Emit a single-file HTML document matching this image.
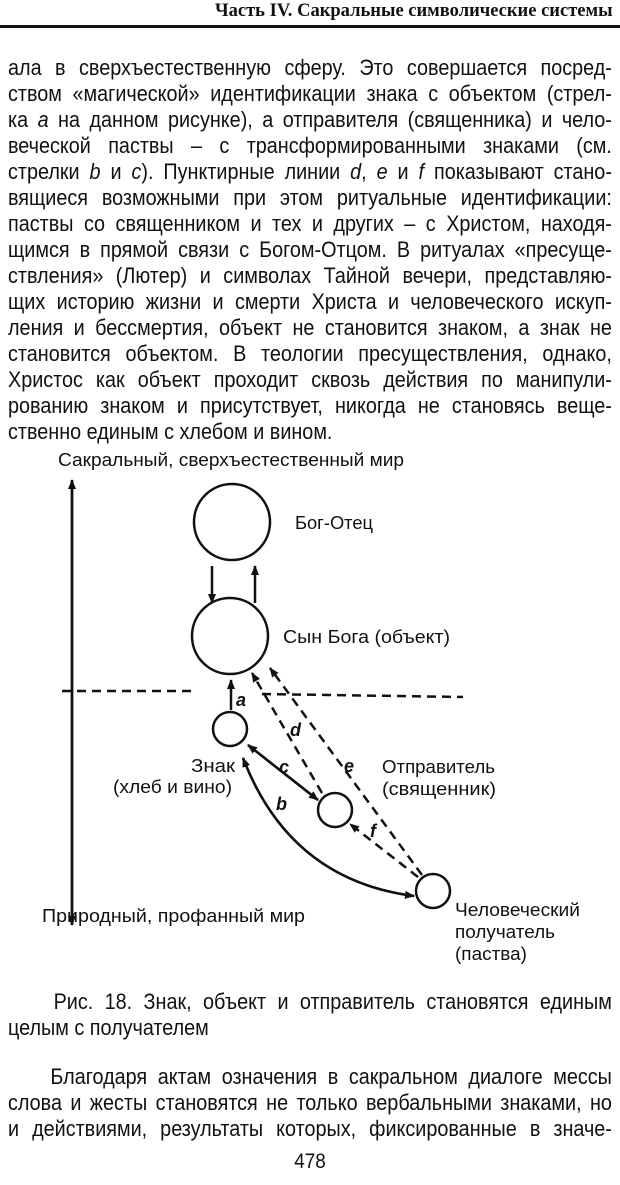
<!DOCTYPE html>
<html><head><meta charset="utf-8"><style>
body{margin:0;background:#fff;width:620px;height:1185px;position:relative;overflow:hidden;color:#111;font-family:"Liberation Sans",sans-serif;}
.l{position:absolute;left:8px;width:671px;font-size:22px;line-height:24px;text-align:justify;text-align-last:justify;white-space:nowrap;transform:scaleX(0.9);transform-origin:0 0;}
.n{text-align-last:left;}
.h{position:absolute;left:215px;top:0;font-size:19px;font-weight:bold;font-family:"Liberation Serif",serif;transform:scaleX(0.975);transform-origin:0 0;white-space:nowrap;}
svg{position:absolute;left:0;top:0;}
svg text{font-family:"Liberation Sans",sans-serif;font-size:18px;fill:#111;}
</style></head><body>
<div class="h">Часть IV. Сакральные символические системы</div>
<div style="position:absolute;left:0;top:25px;width:620px;height:3px;background:#111"></div>
<div class="l" style="top:56px">ала в сверхъестественную сферу. Это совершается посред-</div>
<div class="l" style="top:82px">ством «магической» идентификации знака с объектом (стрел-</div>
<div class="l" style="top:108px">ка <i>a</i> на данном рисунке), а отправителя (священника) и чело-</div>
<div class="l" style="top:134px">веческой паствы – с трансформированными знаками (см.</div>
<div class="l" style="top:160px">стрелки <i>b</i> и <i>c</i>). Пунктирные линии <i>d</i>, <i>e</i> и <i>f</i> показывают стано-</div>
<div class="l" style="top:186px">вящиеся возможными при этом ритуальные идентификации:</div>
<div class="l" style="top:212px">паствы со священником и тех и других – с Христом, находя-</div>
<div class="l" style="top:238px">щимся в прямой связи с Богом-Отцом. В ритуалах «пресуще-</div>
<div class="l" style="top:264px">ствления» (Лютер) и символах Тайной вечери, представляю-</div>
<div class="l" style="top:290px">щих историю жизни и смерти Христа и человеческого искуп-</div>
<div class="l" style="top:316px">ления и бессмертия, объект не становится знаком, а знак не</div>
<div class="l" style="top:342px">становится объектом. В теологии пресуществления, однако,</div>
<div class="l" style="top:368px">Христос как объект проходит сквозь действия по манипули-</div>
<div class="l" style="top:394px">рованию знаком и присутствует, никогда не становясь веще-</div>
<div class="l n" style="top:420px">ственно единым с хлебом и вином.</div>

<svg width="620" height="1185" viewBox="0 0 620 1185">
<defs><marker id="ah" markerWidth="10" markerHeight="8" refX="9" refY="4" orient="auto" markerUnits="userSpaceOnUse"><path d="M0,0 L10,4 L0,8 Z" fill="#111"/></marker></defs>
<g stroke="#111" stroke-width="2.5" fill="none">
<circle cx="232" cy="522" r="38"/>
<circle cx="230" cy="636" r="38"/>
<circle cx="230" cy="729" r="17"/>
<circle cx="335" cy="810" r="17"/>
<circle cx="433" cy="891" r="17"/>
<line x1="72" y1="925" x2="72" y2="480" marker-end="url(#ah)"/>
<line x1="72" y1="480" x2="72" y2="925" marker-end="url(#ah)"/>
<line x1="212" y1="566" x2="212" y2="603" marker-end="url(#ah)"/>
<line x1="255" y1="603" x2="255" y2="566" marker-end="url(#ah)"/>
<line x1="231" y1="710" x2="231" y2="680" marker-end="url(#ah)"/>
<line x1="248" y1="745" x2="318" y2="800" marker-end="url(#ah)"/>
<line x1="318" y1="800" x2="248" y2="745" marker-end="url(#ah)"/>
<path d="M414,896 Q290,880 243,758" marker-end="url(#ah)"/>
<path d="M243,758 Q290,880 414,896" marker-end="url(#ah)"/>
</g>
<g stroke="#111" stroke-width="2.5" fill="none" stroke-dasharray="9,6">
<line x1="62" y1="691" x2="193" y2="691"/>
<line x1="262" y1="694" x2="463" y2="697"/>
<line x1="322" y1="793" x2="252" y2="673" marker-end="url(#ah)"/>
<line x1="422" y1="875" x2="270" y2="668" marker-end="url(#ah)"/>
<line x1="418" y1="877" x2="350" y2="824" marker-end="url(#ah)"/>
</g>
<text x="58" y="466" textLength="346" lengthAdjust="spacingAndGlyphs">Сакральный, сверхъестественный мир</text>
<text x="295" y="529" textLength="78" lengthAdjust="spacingAndGlyphs">Бог-Отец</text>
<text x="283" y="643" textLength="167" lengthAdjust="spacingAndGlyphs">Сын Бога (объект)</text>
<text x="191" y="772" textLength="44" lengthAdjust="spacingAndGlyphs">Знак</text>
<text x="113" y="793" textLength="119" lengthAdjust="spacingAndGlyphs">(хлеб и вино)</text>
<text x="382" y="773" textLength="113" lengthAdjust="spacingAndGlyphs">Отправитель</text>
<text x="382" y="795" textLength="114" lengthAdjust="spacingAndGlyphs">(священник)</text>
<text x="42" y="922" textLength="263" lengthAdjust="spacingAndGlyphs">Природный, профанный мир</text>
<text x="455" y="916" textLength="125" lengthAdjust="spacingAndGlyphs">Человеческий</text>
<text x="455" y="938" textLength="100" lengthAdjust="spacingAndGlyphs">получатель</text>
<text x="455" y="960" textLength="72" lengthAdjust="spacingAndGlyphs">(паства)</text>
<g style="font-style:italic;font-weight:bold;font-size:14px">
<text x="236" y="706">a</text><text x="290" y="736">d</text><text x="279" y="773">c</text>
<text x="344" y="772">e</text><text x="276" y="810">b</text><text x="370" y="837">f</text>
</g>
</svg>

<div class="l" style="top:990px">&nbsp;&nbsp;&nbsp;&nbsp;Рис. 18. Знак, объект и отправитель становятся единым</div>
<div class="l n" style="top:1016px">целым с получателем</div>
<div class="l" style="top:1065px">&nbsp;&nbsp;&nbsp;&nbsp;Благодаря актам означения в сакральном диалоге мессы</div>
<div class="l" style="top:1091px">слова и жесты становятся не только вербальными знаками, но</div>
<div class="l" style="top:1117px">и действиями, результаты которых, фиксированные в значе-</div>
<div style="position:absolute;left:0;width:620px;top:1150px;text-align:center;font-size:21px;transform:scaleX(0.9)">478</div>
</body></html>
